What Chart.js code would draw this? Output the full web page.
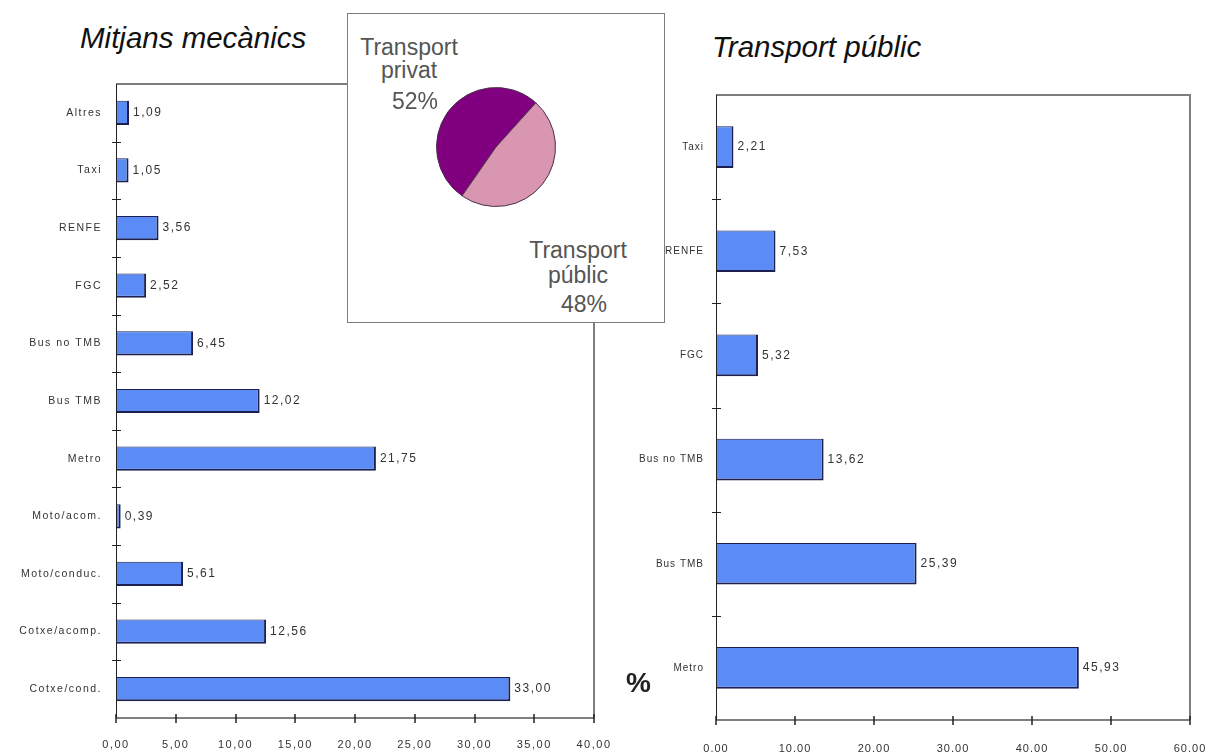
<!DOCTYPE html>
<html>
<head>
<meta charset="utf-8">
<script src="https://cdn.jsdelivr.net/npm/chart.js@4"></script>
<style>
  body { margin:0; background:#fff; width:1206px; height:756px; overflow:hidden; position:relative;
         font-family:"Liberation Sans", Arial, sans-serif; }
  .title { position:absolute; font-style:italic; font-size:29.5px; line-height:29px; color:#111; white-space:nowrap; }
  .cv { position:absolute; }
  #shareBox { position:absolute; left:347px; top:13px; width:316px; height:308px; background:#fff;
              border:1.5px solid #7d7d7d; }
  .pl { position:absolute; font-size:23px; line-height:23px; color:#555; white-space:nowrap; transform:translateX(-50%); }
  #pct { position:absolute; left:626px; top:667px; font-size:28px; font-weight:bold; color:#222; }
</style>
</head>
<body>
<div class="title" style="left:80px; top:23px;">Mitjans mecànics</div>
<div class="title" style="left:712px; top:32px;">Transport públic</div>

<div class="cv" style="left:0; top:0; width:620px; height:756px;"><canvas id="mec"></canvas></div>
<div class="cv" style="left:620px; top:0; width:586px; height:756px;"><canvas id="pub"></canvas></div>

<div id="shareBox"></div>
<div class="cv" style="left:436px; top:87px; width:120px; height:120px;"><canvas id="share"></canvas></div>
<div id="pct">%</div>

<script>
// Modal split, all mechanical means (%)
const mecLabels = ['Altres', 'Taxi', 'RENFE', 'FGC', 'Bus no TMB', 'Bus TMB', 'Metro',
                   'Moto/acom.', 'Moto/conduc.', 'Cotxe/acomp.', 'Cotxe/cond.'];
const mecValues = [1.09, 1.05, 3.56, 2.52, 6.45, 12.02, 21.75, 0.39, 5.61, 12.56, 33.00];
const mecTicks  = ['0,00', '5,00', '10,00', '15,00', '20,00', '25,00', '30,00', '35,00', '40,00'];

// Public transport only (%)
const pubLabels = ['Taxi', 'RENFE', 'FGC', 'Bus no TMB', 'Bus TMB', 'Metro'];
const pubValues = [2.21, 7.53, 5.32, 13.62, 25.39, 45.93];
const pubTicks  = ['0.00', '10.00', '20.00', '30.00', '40.00', '50.00', '60.00'];

// Private vs public share
const shareLabels = [['Transport', 'privat'], ['Transport', 'públic']];
const shareValues = [52, 48];

const FONT = '"Liberation Sans", Arial, sans-serif';
const BAR_FILL = '#5b8bf5';
const BAR_EDGE = '#1c1f4f';

const fmtComma = v => v.toFixed(2).replace('.', ',');

// frame, crossing tick marks and value labels next to each bar
const decor = {
  id: 'decor',
  beforeDraw(chart, args, opts) { chart.ctx.letterSpacing = opts.spacing || '1.5px'; },
  afterDraw(chart) {
    const { ctx, chartArea: a, scales: { x, y } } = chart;
    ctx.save();
    ctx.letterSpacing = '0px';
    ctx.lineCap = 'butt';
    // plot frame (top and right)
    ctx.strokeStyle = '#7d7d7d';
    ctx.lineWidth = 2;
    ctx.beginPath();
    ctx.moveTo(a.left, a.top);
    ctx.lineTo(a.right, a.top);
    ctx.lineTo(a.right, a.bottom);
    ctx.stroke();
    // axes
    ctx.strokeStyle = '#222';
    ctx.lineWidth = 1;
    ctx.beginPath();
    ctx.moveTo(a.left + 0.5, a.top);
    ctx.lineTo(a.left + 0.5, a.bottom);
    ctx.stroke();
    ctx.strokeStyle = '#555';
    ctx.lineWidth = 1.5;
    ctx.beginPath();
    ctx.moveTo(a.left, a.bottom);
    ctx.lineTo(a.right, a.bottom);
    ctx.stroke();
    // category separators on the y axis
    ctx.strokeStyle = '#222';
    ctx.lineWidth = 1;
    for (let i = 1; i < y.ticks.length; i++) {
      const p = Math.round((y.getPixelForValue(i - 1) + y.getPixelForValue(i)) / 2) + 0.5;
      ctx.beginPath();
      ctx.moveTo(a.left - 4, p);
      ctx.lineTo(a.left + 5, p);
      ctx.stroke();
    }
    // value ticks on the x axis
    ctx.lineWidth = 1.5;
    x.ticks.forEach(t => {
      const p = Math.round(x.getPixelForValue(t.value));
      ctx.beginPath();
      ctx.moveTo(p, a.bottom - 4);
      ctx.lineTo(p, a.bottom + 5);
      ctx.stroke();
    });
    // value labels
    const meta = chart.getDatasetMeta(0);
    const data = chart.data.datasets[0].data;
    ctx.font = '12px ' + FONT;
    ctx.letterSpacing = '1.5px';
    ctx.fillStyle = '#333';
    ctx.textAlign = 'left';
    ctx.textBaseline = 'middle';
    meta.data.forEach((bar, i) => {
      ctx.fillText(fmtComma(data[i]), bar.x + 4, bar.y);
    });
    ctx.restore();
    ctx.letterSpacing = '0px';
  }
};

function barChart(id, labels, values, ticks, max, step, geo) {
  return new Chart(document.getElementById(id), {
    type: 'bar',
    data: {
      labels: labels,
      datasets: [{
        data: values,
        backgroundColor: BAR_FILL,
        borderColor: BAR_EDGE,
        borderWidth: { top: 1, left: 1, right: 2, bottom: 2 },
        borderSkipped: false,
        barPercentage: geo.bar,
        categoryPercentage: 1
      }]
    },
    options: {
      indexAxis: 'y',
      responsive: true,
      maintainAspectRatio: false,
      animation: false,
      events: [],
      layout: { padding: { top: geo.top, right: geo.right, left: 0, bottom: 0 } },
      plugins: {
        legend: { display: false },
        tooltip: { enabled: false },
        decor: { spacing: geo.ls }
      },
      scales: {
        x: {
          min: 0, max: max,
          grid: { display: false },
          border: { display: false },
          afterFit(s) { s.height = geo.xh; s.paddingLeft = 0; s.paddingRight = 0; },
          ticks: {
            stepSize: step,
            autoSkip: false,
            maxRotation: 0,
            padding: geo.xpad,
            color: '#333',
            font: { family: FONT, size: 11 },
            callback: (v, i) => ticks[i]
          }
        },
        y: {
          grid: { display: false },
          border: { display: false },
          afterFit(s) { s.width = geo.yw; s.paddingTop = 0; s.paddingBottom = 0; },
          ticks: {
            padding: geo.ypad,
            color: '#333',
            autoSkip: false,
            font: { family: FONT, size: geo.yfont }
          }
        }
      }
    },
    plugins: [decor]
  });
}

barChart('mec', mecLabels, mecValues, mecTicks, 40, 5,
         { top: 84, right: 26, xh: 38, yw: 116, bar: 0.42, xpad: 12, ypad: 6, yfont: 10.5, ls: '1.5px' });
barChart('pub', pubLabels, pubValues, pubTicks, 60, 10,
         { top: 95, right: 16, xh: 36, yw: 96, bar: 0.40, xpad: 14, ypad: 4, yfont: 10, ls: '1px' });

// share pie
new Chart(document.getElementById('share'), {
  type: 'pie',
  data: {
    labels: shareLabels.map(l => l.join(' ')),
    datasets: [{
      data: shareValues,
      backgroundColor: ['#800080', '#d996b1'],
      borderColor: '#4a3048',
      borderWidth: 1,
      hoverOffset: 0
    }]
  },
  options: {
    responsive: true,
    maintainAspectRatio: false,
    animation: false,
    events: [],
    rotation: 214.8,
    layout: { padding: 0 },
    plugins: { legend: { display: false }, tooltip: { enabled: false } }
  }
});

// pie labels, one text line per row
const pieText = [
  { x: 409, rows: [[shareLabels[0][0], 36], [shareLabels[0][1], 59], [shareValues[0] + '%', 90]] },
  { x: 578, rows: [[shareLabels[1][0], 239], [shareLabels[1][1], 264], [shareValues[1] + '%', 293]] }
];
pieText.forEach(g => g.rows.forEach(([txt, top], i) => {
  const d = document.createElement('div');
  d.className = 'pl';
  d.textContent = txt;
  d.style.left = (g.x + (i === 2 ? 6 : 0)) + 'px';
  d.style.top = top + 'px';
  document.body.appendChild(d);
}));
</script>
</body>
</html>
